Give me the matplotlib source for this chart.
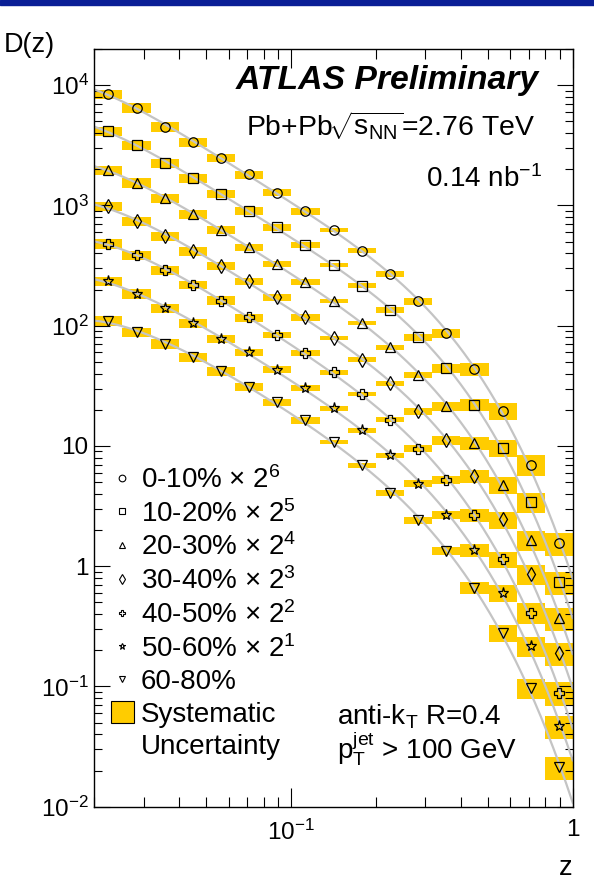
import numpy as np
import matplotlib
matplotlib.use("Agg")
import matplotlib.pyplot as plt
from matplotlib.lines import Line2D
from matplotlib.patches import Patch, Rectangle
from matplotlib.ticker import FixedLocator, LogLocator, NullFormatter

plt.rcParams['font.family'] = ['Liberation Sans', 'DejaVu Sans']
plt.rcParams['mathtext.fontset'] = 'custom'
plt.rcParams['mathtext.rm'] = 'Liberation Sans'
plt.rcParams['mathtext.it'] = 'Liberation Sans:italic'
plt.rcParams['mathtext.bf'] = 'Liberation Sans:bold'
plt.rcParams['mathtext.default'] = 'regular'

# z binning (log-uniform, 17 bins)
z_edges = [0.02, 0.02518, 0.0317, 0.0399, 0.05024, 0.06325, 0.07962, 0.1002, 0.1262,
           0.1589, 0.2, 0.2518, 0.317, 0.399, 0.5024, 0.6325, 0.7962, 1.0024]

# D(z) per centrality bin, already multiplied by the 2^n offsets
d_0_10 = [8410, 6480, 4500, 3360, 2490, 1810, 1275, 892, 625, 420, 269, 159, 86.5, 43.5, 19.5, 7.0, 1.56]
d_10_20 = [4150, 3175, 2250, 1676, 1243, 904, 657, 469, 320, 215, 135, 80.1, 44.3, 22.1, 9.66, 3.41, 0.739]
d_20_30 = [1968, 1543, 1143, 842, 625, 448, 326, 231, 161, 105.5, 66.2, 39.0, 21.4, 10.6, 4.73, 1.66, 0.371]
d_30_40 = [981, 742, 553, 415, 313, 234, 172, 117, 78.9, 52.3, 33.2, 19.5, 11.1, 5.61, 2.45, 0.868, 0.190]
d_40_50 = [478, 387, 289, 219, 162, 117, 83.9, 59.0, 41.0, 27.1, 16.5, 9.48, 5.22, 2.65, 1.14, 0.412, 0.0885]
d_50_60 = [234, 184, 140, 105, 77.7, 60.1, 43.0, 30.2, 20.5, 13.5, 8.34, 4.85, 2.68, 1.36, 0.604, 0.218, 0.0468]
d_60_80 = [110, 88.5, 71.0, 54.6, 41.8, 31.2, 23.1, 16.3, 10.8, 6.89, 4.06, 2.41, 1.34, 0.664, 0.279, 0.0962, 0.0213]

# relative systematic uncertainty per z bin
sys_rel = [0.09, 0.09, 0.09, 0.08, 0.08, 0.075, 0.065, 0.06, 0.045, 0.045, 0.05, 0.065, 0.08,
           0.12, 0.16, 0.19, 0.22]

series = [d_0_10, d_10_20, d_20_30, d_30_40, d_40_50, d_50_60, d_60_80]
labels = ['0-10% \u00d7 2$^{6}$', '10-20% \u00d7 2$^{5}$', '20-30% \u00d7 2$^{4}$',
          '30-40% \u00d7 2$^{3}$', '40-50% \u00d7 2$^{2}$', '50-60% \u00d7 2$^{1}$', '60-80%']
markers = ['o', 's', '^', 'd', 'P', '*', 'v']
msizes = [6.8, 7.0, 7.6, 7.4, 7.2, 8.0, 7.6]

yellow = '#ffcc00'
fs_tick = 17.5
fs_text = 20

edges = np.array(z_edges)
zc = np.sqrt(edges[:-1] * edges[1:])
widths = np.diff(edges)
rel = np.array(sys_rel)

fig = plt.figure(figsize=(5.94, 8.92), dpi=100)
fig.patches.append(Rectangle((0, 1 - 4.5 / 892), 1, 4.5 / 892, transform=fig.transFigure,
                             color='#0a1f96', zorder=10))
ax = fig.add_axes([94.3 / 594, 1 - 806.7 / 892, (572.7 - 94.3) / 594, (806.7 - 49) / 892])

zfine = np.geomspace(0.02, 1.0, 300)
for vals, m, ms in zip(series, markers, msizes):
    y = np.array(vals)
    lo = y * (1 - rel)
    hi = y * (1 + rel)
    ax.bar(edges[:-1], hi - lo, width=widths, bottom=lo, align='edge',
           color=yellow, lw=0, zorder=1)
    # smooth fit through the points in log-log space
    c = np.polyfit(np.log10(zc), np.log10(y), 4)
    ax.plot(zfine, 10 ** np.polyval(c, np.log10(zfine)), color='#c4c4c4', lw=1.6, zorder=2)
    ax.plot(zc, y, ls='none', marker=m, ms=ms, mfc='none', mec='k', mew=0.9, zorder=3)

ax.set_xscale('log')
ax.set_yscale('log')
ax.set_xlim(0.02, 1.0)
ax.set_ylim(0.01, 2e4)

ax.xaxis.set_major_locator(FixedLocator([0.1, 1.0]))
ax.set_xticklabels(['10$^{-1}$', '1'])
ax.xaxis.set_minor_locator(LogLocator(base=10, subs=np.arange(2, 10), numticks=20))
ax.xaxis.set_minor_formatter(NullFormatter())
ax.yaxis.set_major_locator(FixedLocator([1e-2, 1e-1, 1, 10, 1e2, 1e3, 1e4]))
ax.set_yticklabels(['10$^{-2}$', '10$^{-1}$', '1', '10', '10$^{2}$', '10$^{3}$', '10$^{4}$'])
ax.yaxis.set_minor_locator(LogLocator(base=10, subs=np.arange(2, 10), numticks=20))
ax.yaxis.set_minor_formatter(NullFormatter())

ax.tick_params(which='both', direction='in', top=True, right=True, width=0.8, labelsize=fs_tick)
ax.tick_params(axis='x', which='major', length=14, pad=9)
ax.tick_params(axis='x', which='minor', length=7.5)
ax.tick_params(axis='y', which='major', length=11.5, pad=4)
ax.tick_params(axis='y', which='minor', length=6)
for s in ax.spines.values():
    s.set_linewidth(1.0)

handles = [Line2D([], [], ls='none', marker=m, ms=4.8, mfc='none', mec='k', mew=0.8)
           for m in markers]
handles += [Patch(facecolor=yellow, edgecolor='k', lw=0.8), Line2D([], [], ls='none')]
leg = ax.legend(handles, labels + ['Systematic', 'Uncertainty'], loc='upper left',
                bbox_to_anchor=((110.5 - 94.3) / 478.4, (806.7 - 466) / 757.7),
                frameon=False, fontsize=fs_text, borderpad=0, borderaxespad=0,
                handlelength=0.83, handleheight=0.83, handletextpad=0.26, labelspacing=0.215)

fig.text(539 / 594, 1 - 89 / 892, 'ATLAS Preliminary', ha='right', va='baseline',
         fontsize=24.3, fontweight='bold', fontstyle='italic')
fig.text(535 / 594, 1 - 136 / 892, r'Pb+Pb$\!\sqrt{s_{NN}}$=2.76 TeV', ha='right',
         va='baseline', fontsize=20.4)
fig.text(541.7 / 594, 1 - 187.3 / 892, '0.14 nb$^{-1}$', ha='right', va='baseline', fontsize=fs_text)
fig.text(337.3 / 594, 1 - 724.3 / 892, 'anti-k$_{T}$ R=0.4', ha='left', va='baseline', fontsize=fs_text)
fig.text(337 / 594, 1 - 758.3 / 892, 'p$_{T}^{jet}$ > 100 GeV', ha='left', va='baseline',
         fontsize=fs_text)

fig.text(4 / 594, 1 - 52 / 892, 'D(z)', ha='left', va='baseline', fontsize=19.5)
fig.text(572 / 594, 1 - 875 / 892, 'z', ha='right', va='baseline', fontsize=19.5)

fig.savefig('out.png', dpi=100)
